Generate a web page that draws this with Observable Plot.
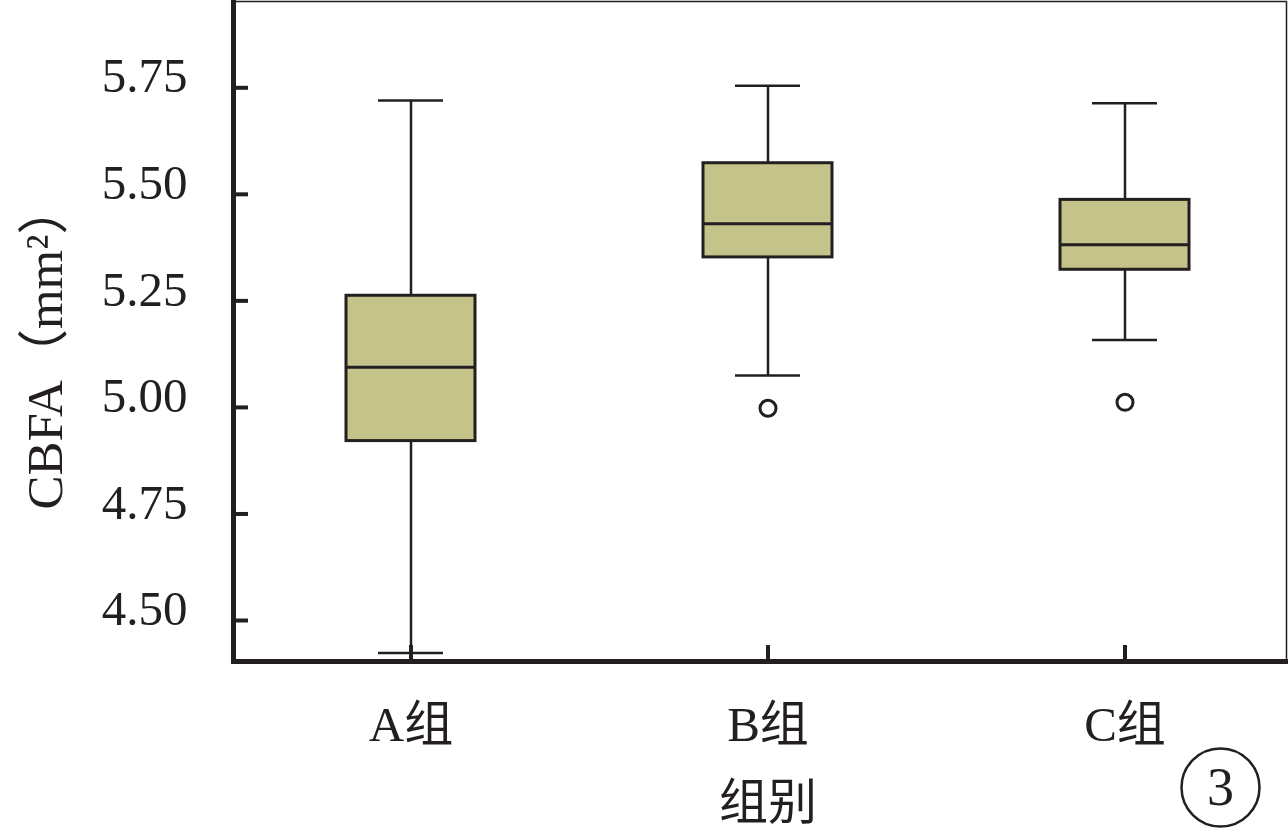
<!DOCTYPE html>
<html>
<head>
<meta charset="utf-8">
<script src="https://cdn.jsdelivr.net/npm/d3@7"></script>
<script src="https://cdn.jsdelivr.net/npm/@observablehq/plot@0.6"></script>
<style>
  html, body { margin: 0; padding: 0; background: #fff; }
  #chart svg { display: block; }
</style>
</head>
<body>
<div id="chart"></div>
<script>
// ---- data ----
const groups      = ["A组", "B组", "C组"];
const whiskerHigh = [5.720, 5.755, 5.714];
const q3          = [5.262, 5.573, 5.487];
const median      = [5.094, 5.431, 5.382];
const q1          = [4.921, 5.352, 5.323];
const whiskerLow  = [4.424, 5.075, 5.158];
const outlierGroups = ["B组", "C组"];
const outlierValues = [4.998, 5.012];
const yTicks = [4.50, 4.75, 5.00, 5.25, 5.50, 5.75];
const yDomain = [4.4038, 5.9525];
const yLabel = "CBFA（mm²）";
const xLabel = "组别";
const panelTag = "3";

const boxes = groups.map((g, i) => ({
  group: g, low: whiskerLow[i], q1: q1[i], median: median[i], q3: q3[i], high: whiskerHigh[i]
}));
const outliers = outlierGroups.map((g, i) => ({group: g, value: outlierValues[i]}));

const ink = "#231f20";
const fillColor = "#c4c48a";
const serif = "'Liberation Serif', 'Noto Sans CJK SC', serif";

const chart = Plot.plot({
  width: 1288,
  height: 831,
  marginLeft: 233,
  marginRight: 2,
  marginTop: 1,
  marginBottom: 170,
  style: {fontFamily: serif, color: ink, background: "#fff", overflow: "visible"},
  x: {type: "band", domain: groups, range: [345, 1189], paddingInner: 0.64, paddingOuter: 0, align: 0.5},
  y: {domain: yDomain},
  marks: [
    Plot.frame({stroke: ink, strokeWidth: 1.5}),
    // whiskers
    Plot.ruleX(boxes, {x: "group", y1: "low", y2: "q1", stroke: ink, strokeWidth: 2.5}),
    Plot.ruleX(boxes, {x: "group", y1: "q3", y2: "high", stroke: ink, strokeWidth: 2.5}),
    Plot.tickY(boxes, {x: "group", y: "low", stroke: ink, strokeWidth: 2.5, insetLeft: 32, insetRight: 32}),
    Plot.tickY(boxes, {x: "group", y: "high", stroke: ink, strokeWidth: 2.5, insetLeft: 32, insetRight: 32}),
    // boxes
    Plot.barY(boxes, {x: "group", y1: "q1", y2: "q3", fill: fillColor, stroke: ink, strokeWidth: 3}),
    Plot.tickY(boxes, {x: "group", y: "median", stroke: ink, strokeWidth: 3}),
    // outliers
    Plot.dot(outliers, {x: "group", y: "value", r: 8, stroke: ink, strokeWidth: 3, fill: "#fff"}),
    // thick left & bottom axis lines
    Plot.frame({anchor: "left", stroke: ink, strokeWidth: 5}),
    Plot.frame({anchor: "bottom", stroke: ink, strokeWidth: 5}),
    // y axis: inward ticks and labels
    Plot.axisY(yTicks, {tickSize: -15, strokeWidth: 4, stroke: ink, tickFormat: () => "", label: null}),
    Plot.axisY(yTicks, {tickSize: 0, tickPadding: 46, tickFormat: d3.format(".2f"), fontSize: 49, fill: ink, dy: -11, label: null}),
    // x axis
    Plot.axisX({tickSize: -16, strokeWidth: 4, stroke: ink, tickPadding: 61, fontSize: 49, fill: ink, label: null}),
    // axis titles
    Plot.text([yLabel], {frameAnchor: "left", textAnchor: "middle", rotate: -90, dx: -188, dy: 15, fontSize: 51, fill: ink, lineAnchor: "middle"}),
    Plot.text([xLabel], {frameAnchor: "bottom", textAnchor: "middle", dx: 8, dy: 142, fontSize: 49, fill: ink, lineAnchor: "middle"}),
    // panel tag
    Plot.dot([panelTag], {frameAnchor: "bottom-right", dx: -66, dy: 126, r: 39, stroke: ink, strokeWidth: 2.5, fill: "none"}),
    Plot.text([panelTag], {frameAnchor: "bottom-right", textAnchor: "middle", dx: -66, dy: 126, fontSize: 54, fill: ink, lineAnchor: "middle"})
  ]
});
document.getElementById("chart").appendChild(chart);
</script>
</body>
</html>
